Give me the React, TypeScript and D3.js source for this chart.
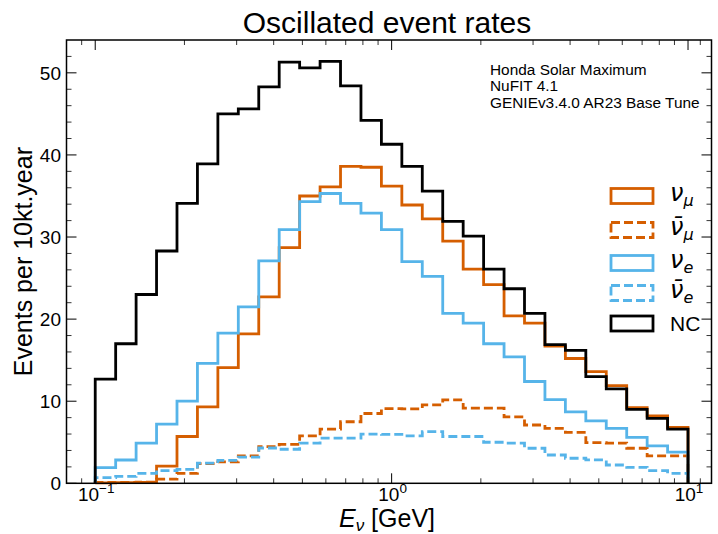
import React from "react";
import * as d3 from "d3";

// ---- data (29 log-spaced bins from 0.1 to 10 GeV) ----
const binEdges: number[] = d3.range(30).map((i) => Math.pow(10, -1 + (2 * i) / 29));

const numu: number[] = [0.05, 0.08, 0.12, 2.1, 5.7, 9.3, 14.1, 18.2, 22.7, 28.7, 35.0, 36.1, 38.6, 38.5, 36.2, 33.9, 32.2, 29.5, 26.1, 24.2, 20.4, 19.5, 16.7, 15.2, 13.6, 11.9, 9.2, 8.2, 6.8];
const numubar: number[] = [0.1, 0.12, 0.15, 0.5, 1.2, 2.4, 2.6, 3.35, 4.47, 4.75, 5.77, 6.6, 7.5, 8.5, 9.1, 9.06, 9.55, 10.16, 9.15, 9.15, 8.1, 7.1, 6.7, 6.2, 4.95, 4.9, 4.27, 3.33, 3.33];
const nue: number[] = [1.9, 2.84, 4.9, 7.2, 10.0, 14.6, 18.3, 21.5, 27.1, 30.9, 34.3, 35.3, 34.1, 32.9, 30.9, 27.0, 25.2, 20.7, 19.5, 17.0, 15.4, 12.4, 10.2, 8.7, 7.6, 6.7, 5.6, 4.55, 3.8];
const nuebar: number[] = [0.7, 0.85, 1.2, 1.55, 1.7, 2.45, 2.8, 3.2, 4.3, 4.15, 4.9, 5.5, 5.5, 6.0, 5.97, 5.77, 6.3, 5.7, 5.7, 5.0, 4.9, 4.27, 3.45, 3.05, 2.85, 2.23, 1.95, 1.54, 1.22];
const nc: number[] = [12.7, 17.0, 23.0, 28.3, 34.1, 38.9, 45.0, 45.6, 48.3, 51.3, 50.6, 51.4, 48.4, 44.2, 41.3, 38.6, 35.6, 31.9, 30.1, 26.1, 23.7, 20.7, 16.9, 16.2, 13.0, 11.5, 9.0, 7.9, 6.6];

const xMajorTicks: number[] = [0.1, 1, 10];
const xMajorExp: string[] = ["\u22121", "0", "1"];
const xMinorTicks: number[] = [0.09, 0.2, 0.3, 0.4, 0.5, 0.6, 0.7, 0.8, 0.9, 2, 3, 4, 5, 6, 7, 8, 9, 11];
const yMajorTicks: number[] = [0, 10, 20, 30, 40, 50];
const yMinorTicks: number[] = [2, 4, 6, 8, 12, 14, 16, 18, 22, 24, 26, 28, 32, 34, 36, 38, 42, 44, 46, 48, 52];

const annotationLines: string[] = ["Honda Solar Maximum", "NuFIT 4.1", "GENIEv3.4.0 AR23 Base Tune"];

const ORANGE = "#D55E00";
const BLUE = "#56B4E9";

type Series = { key: string; values: number[]; color: string; dashed: boolean; label: string; sub: string; bar: boolean };
const seriesList: Series[] = [
  { key: "numu", values: numu, color: ORANGE, dashed: false, label: "\u03bd", sub: "\u03bc", bar: false },
  { key: "numubar", values: numubar, color: ORANGE, dashed: true, label: "\u03bd", sub: "\u03bc", bar: true },
  { key: "nue", values: nue, color: BLUE, dashed: false, label: "\u03bd", sub: "e", bar: false },
  { key: "nuebar", values: nuebar, color: BLUE, dashed: true, label: "\u03bd", sub: "e", bar: true },
  { key: "nc", values: nc, color: "#000000", dashed: false, label: "NC", sub: "", bar: false },
];

const W = 718;
const H = 534;
const L = 66.5;
const R = 711.5;
const T = 40;
const B = 483.3;
const FONT = "'Liberation Sans', Arial, Helvetica, sans-serif";

export default function App() {
  const x = d3.scaleLog().domain([0.08, 12]).range([L, R]);
  const y = d3.scaleLinear().domain([0, 54]).range([B, T]);

  const stepPath = (vals: number[]) => {
    let p = `M${x(binEdges[0])},${y(0)}`;
    vals.forEach((v, i) => {
      p += `V${y(v)}H${x(binEdges[i + 1])}`;
    });
    p += `V${y(0)}`;
    return p;
  };

  const legendY = [196, 230, 263, 293, 323.5];
  const midX = (L + R) / 2;

  return (
    <svg width={W} height={H} style={{ position: "absolute", left: 0, top: 0, background: "#fff" }} fontFamily={FONT}>
      <rect x={0} y={0} width={W} height={H} fill="#fff" />
      {/* histograms */}
      {seriesList.map((s) => (
        <path
          key={s.key}
          d={stepPath(s.values)}
          fill="none"
          stroke={s.color}
          strokeWidth={2.8}
          strokeDasharray={s.dashed ? "9,4" : undefined}
          strokeLinejoin="miter"
        />
      ))}

      {/* ticks */}
      {xMajorTicks.map((t) => (
        <g key={"xM" + t}>
          <line x1={x(t)} x2={x(t)} y1={B} y2={B - 10} stroke="#000" strokeWidth={1} />
          <line x1={x(t)} x2={x(t)} y1={T} y2={T + 10} stroke="#000" strokeWidth={1} />
        </g>
      ))}
      {xMinorTicks.map((t) => (
        <g key={"xm" + t}>
          <line x1={x(t)} x2={x(t)} y1={B} y2={B - 5} stroke="#000" strokeWidth={0.8} />
          <line x1={x(t)} x2={x(t)} y1={T} y2={T + 5} stroke="#000" strokeWidth={0.8} />
        </g>
      ))}
      {yMajorTicks.map((t) => (
        <g key={"yM" + t}>
          <line x1={L} x2={L + 10} y1={y(t)} y2={y(t)} stroke="#000" strokeWidth={1} />
          <line x1={R} x2={R - 10} y1={y(t)} y2={y(t)} stroke="#000" strokeWidth={1} />
        </g>
      ))}
      {yMinorTicks.map((t) => (
        <g key={"ym" + t}>
          <line x1={L} x2={L + 5} y1={y(t)} y2={y(t)} stroke="#000" strokeWidth={0.8} />
          <line x1={R} x2={R - 5} y1={y(t)} y2={y(t)} stroke="#000" strokeWidth={0.8} />
        </g>
      ))}

      {/* frame */}
      <rect x={L} y={T} width={R - L} height={B - T} fill="none" stroke="#000" strokeWidth={1.5} />

      {/* tick labels */}
      {yMajorTicks.map((t) => (
        <text key={"yl" + t} x={L - 5.5} y={y(t) + 7} fontSize={19} textAnchor="end" fill="#000">
          {t}
        </text>
      ))}
      {xMajorTicks.map((t, i) => (
        <text key={"xl" + t} x={x(t) + 1} y={501} fontSize={19} textAnchor="middle" fill="#000">
          10
          <tspan dy={-8} fontSize={13.5}>{xMajorExp[i]}</tspan>
        </text>
      ))}

      {/* axis labels */}
      <text x={midX - 2} y={527} fontSize={25} textAnchor="middle" fill="#000">
        <tspan fontStyle="italic">E</tspan>
        <tspan fontStyle="italic" fontSize={17} dy={4}>{"\u03bd"}</tspan>
        <tspan dy={-4}>{" [GeV]"}</tspan>
      </text>
      <text transform={`translate(32,${(T + B) / 2}) rotate(-90)`} fontSize={25} textAnchor="middle" fill="#000">
        Events per 10kt.year
      </text>

      {/* title */}
      <text x={midX - 2} y={33} fontSize={30} textAnchor="middle" fill="#000">
        Oscillated event rates
      </text>

      {/* annotation */}
      {annotationLines.map((s, i) => (
        <text key={"an" + i} x={490} y={75 + i * 16.3} fontSize={15.4} fill="#000">
          {s}
        </text>
      ))}

      {/* legend */}
      {seriesList.map((s, i) => (
        <g key={"lg" + s.key}>
          <rect
            x={611}
            y={legendY[i] - 7.5}
            width={42}
            height={15}
            fill="none"
            stroke={s.color}
            strokeWidth={2.8}
            strokeDasharray={s.dashed ? "9,4" : undefined}
          />
          {s.key === "nc" ? (
            <text x={670} y={legendY[i] + 7} fontSize={21} fill="#000">NC</text>
          ) : (
            <text x={670} y={legendY[i] + 5} fontSize={24} fill="#000" fontFamily="'DejaVu Sans', sans-serif" fontStyle="italic">
              {s.bar ? "\u03bd\u0304" : "\u03bd"}
              <tspan fontSize={16} dy={5}>{s.sub}</tspan>
            </text>
          )}
        </g>
      ))}
    </svg>
  );
}
